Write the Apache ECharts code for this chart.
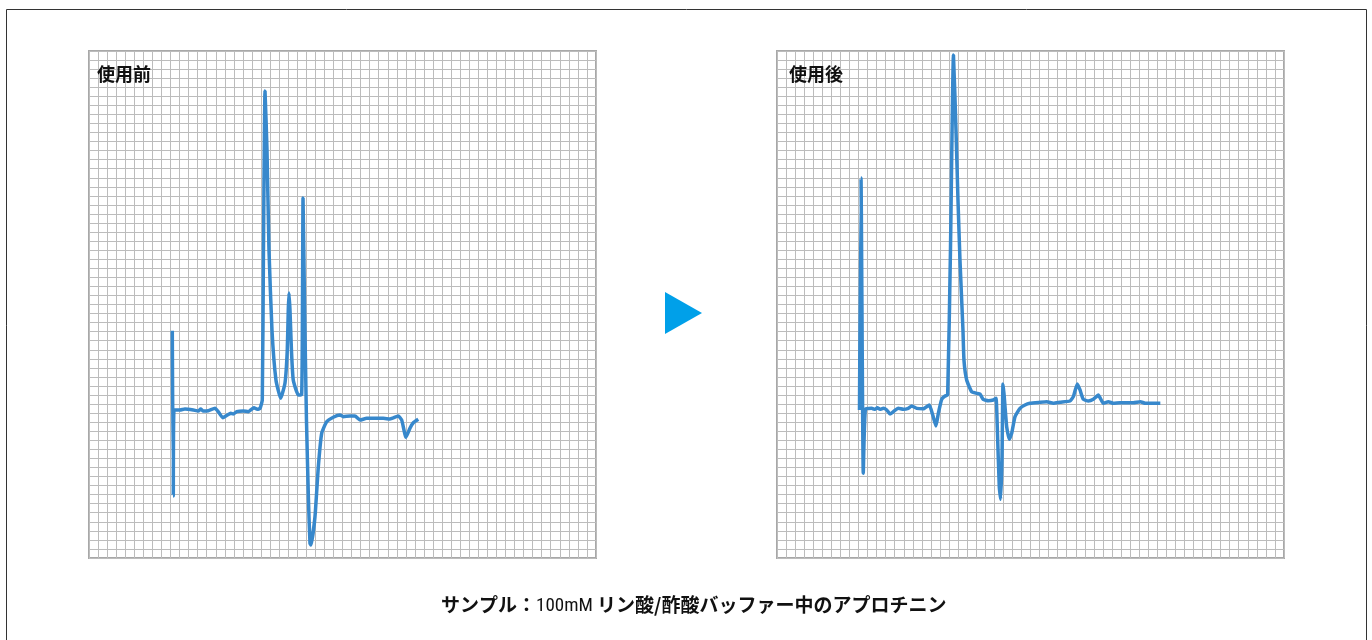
<!DOCTYPE html>
<html>
<head>
<meta charset="utf-8">
<script src="https://cdn.jsdelivr.net/npm/echarts@6/dist/echarts.min.js"></script>
<style>
html,body{margin:0;padding:0;background:#fff;}
#chart{width:1372px;height:640px;}
</style>
</head>
<body>
<div id="chart"></div>
<script>
// Panel titles and caption
const panelTitles = ['使用前', '使用後'];
const captionParts = ['サンプル：', '100mM', ' リン酸/酢酸バッファー中のアプロチニン'];

// Grid scale (grid units, 56 cells each way)
const axisMin = 0;
const axisMax = 56;
const axisStep = 1;

// Before (使用前): [x, y] in grid units
const beforeTrace = [
  [9.20,25.11],[9.31,6.85],[9.39,16.35],[10.05,16.35],[10.60,16.46],[11.52,16.35],[12.07,16.24],
  [12.34,16.46],[12.62,16.24],[13.18,16.27],[13.92,16.53],[14.28,16.16],[14.77,15.50],[15.28,15.79],
  [15.65,15.98],[15.94,15.90],[16.31,16.16],[17.04,16.24],[17.59,16.16],[18.22,16.60],[18.59,16.42],
  [18.89,16.53],[19.14,17.45],[19.27,34.02],[19.44,51.58],[19.66,45.06],[19.88,34.02],[20.21,25.18],
  [20.65,19.66],[21.17,17.64],[21.65,19.33],[21.90,22.97],[22.01,27.39],[22.09,29.27],[22.20,27.39],
  [22.36,22.97],[22.56,19.66],[23.12,18.00],[23.49,18.08],[23.58,28.50],[23.64,39.76],[23.80,28.50],
  [24.02,15.24],[24.24,6.41],[24.41,1.62],[24.52,1.44],[24.96,4.56],[25.33,10.08],[25.70,13.77],
  [26.25,15.05],[26.98,15.54],[27.72,15.79],[28.09,15.61],[28.83,15.68],[29.38,15.68],[29.93,15.24],
  [30.67,15.43],[31.40,15.43],[32.51,15.43],[33.25,15.35],[34.16,15.68],[34.54,15.24],[35.01,13.33],
  [35.45,14.33],[35.82,14.94],[36.37,15.32]
];

// After (使用後): [x, y] in grid units
const afterTrace = [
  [9.11,16.35],[9.28,41.97],[9.53,9.35],[9.77,16.46],[10.46,16.53],[10.82,16.42],[11.08,16.60],
  [11.38,16.42],[11.74,16.53],[12.12,16.35],[12.48,15.90],[12.85,16.16],[13.40,16.53],[13.95,16.42],
  [14.50,16.53],[14.88,16.79],[15.43,16.53],[16.16,16.49],[16.82,16.90],[17.20,15.79],[17.56,14.58],
  [17.82,15.98],[18.19,17.53],[18.56,17.89],[18.85,18.00],[19.16,34.02],[19.49,55.56],[19.77,47.27],
  [19.99,39.54],[20.21,32.91],[20.54,25.18],[20.65,21.87],[20.95,19.66],[21.50,18.37],[22.05,18.19],
  [22.42,18.11],[22.78,17.53],[23.34,17.37],[23.89,17.45],[24.19,17.64],[24.33,14.50],[24.55,7.88],
  [24.71,6.48],[24.85,10.82],[24.96,19.22],[25.07,18.19],[25.37,14.50],[25.66,13.11],[25.92,13.77],
  [26.29,15.61],[26.84,16.53],[27.39,16.90],[27.94,17.09],[29.05,17.20],[29.79,17.26],[30.52,17.09],
  [31.26,17.20],[32.36,17.34],[32.73,17.82],[33.17,19.22],[33.47,18.56],[33.83,17.53],[34.39,17.34],
  [34.94,17.53],[35.49,18.00],[36.04,17.09],[36.60,17.26],[37.15,17.09],[37.89,17.15],[38.63,17.15],
  [39.35,17.15],[40.13,17.26],[40.68,17.09],[41.42,17.09],[42.34,17.09]
];

const chart = echarts.init(document.getElementById('chart'));
const lineColor = '#3788cc';
const FONT = '"Noto Sans CJK JP", "Noto Sans", sans-serif';

function axis(idx) {
  return {
    type: 'value', gridIndex: idx, min: axisMin, max: axisMax, interval: axisStep,
    axisLabel: {show: false}, axisTick: {show: false},
    axisLine: {show: false},
    splitLine: {show: true, lineStyle: {color: '#bcbcbc', width: 1}}
  };
}

const option = {
  animation: false,
  backgroundColor: '#fff',
  title: [
    {text: panelTitles[0], left: 92, top: 60, textStyle: {fontFamily: FONT, fontSize: 18, fontWeight: 'bold', color: '#111'}},
    {text: panelTitles[1], left: 784, top: 60, textStyle: {fontFamily: FONT, fontSize: 18, fontWeight: 'bold', color: '#111'}}
  ],
  grid: [
    {left: 89, top: 51, width: 507, height: 507, show: true, borderColor: '#a8a8a8', borderWidth: 2, backgroundColor: 'transparent'},
    {left: 777, top: 51, width: 507, height: 507, show: true, borderColor: '#a8a8a8', borderWidth: 2, backgroundColor: 'transparent'}
  ],
  xAxis: [axis(0), axis(1)],
  yAxis: [axis(0), axis(1)],
  series: [
    {type: 'line', xAxisIndex: 0, yAxisIndex: 0, data: beforeTrace, showSymbol: false, smooth: 0.15,
     lineStyle: {color: lineColor, width: 3.5}, z: 5},
    {type: 'line', xAxisIndex: 1, yAxisIndex: 1, data: afterTrace, showSymbol: false, smooth: 0.15,
     lineStyle: {color: lineColor, width: 3.5}, z: 5}
  ],
  graphic: [
    {type: 'rect', shape: {x: 6.5, y: 9.5, width: 1360, height: 660},
     style: {fill: 'none', stroke: '#333', lineWidth: 1}, silent: true},
    {type: 'polygon', shape: {points: [[665, 292], [702, 313], [665, 334]]},
     style: {fill: '#00a0e9'}},
    {type: 'text', left: 441, top: 595,
     style: {
       text: '{b|' + captionParts[0] + '}{n|' + captionParts[1] + '}{b|' + captionParts[2] + '}',
       rich: {
         b: {fontFamily: FONT, fontSize: 19, fontWeight: 'bold', fill: '#111', verticalAlign: 'middle'},
         n: {fontFamily: '"Roboto Condensed", "Liberation Sans Narrow", "DejaVu Sans Condensed", sans-serif', fontSize: 19, fill: '#111', verticalAlign: 'middle', padding: [4, 0, 0, 0]}
       }
     }}
  ]
};
chart.setOption(option);
</script>
</body>
</html>
